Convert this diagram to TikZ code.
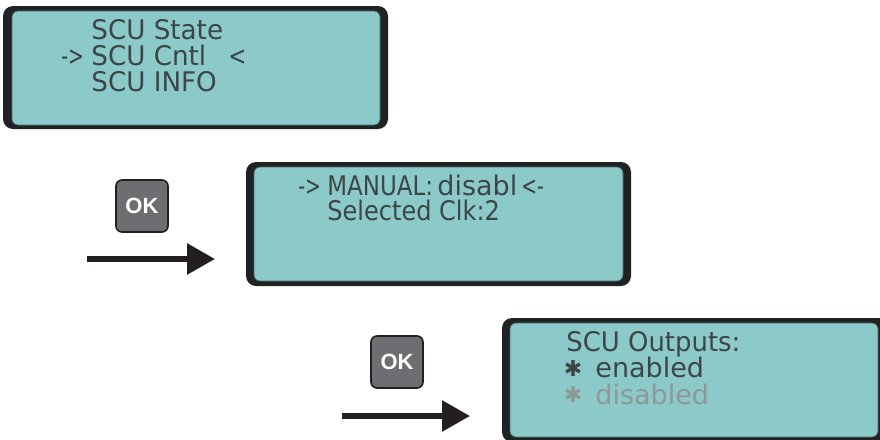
\documentclass[tikz,border=0pt]{standalone}
\usepackage{fontspec}
\usepackage{graphicx}
\usetikzlibrary{arrows.meta}
\newfontfamily\lcdfont{DejaVu Sans}
\newfontfamily\okfont{Liberation Sans}
\definecolor{lcdbg}{HTML}{8BCAC8}
\definecolor{lcdframe}{HTML}{1F2323}
\definecolor{lcdtxt}{HTML}{3C4646}
\definecolor{lcddim}{HTML}{8E9898}
\definecolor{btnfill}{HTML}{6D6E71}
\definecolor{ink}{HTML}{231F20}
\newcommand\squeeze[2]{\scalebox{#1}[1]{#2}}
\begin{document}
\begin{tikzpicture}[x=0.5pt,y=-0.5pt,
  lcdout/.style={fill=lcdframe, rounded corners=5pt},
  lcdin/.style={fill=lcdbg, draw=lcdframe!60!lcdbg, line width=0.4pt, rounded corners=3pt},
  lcd/.style={anchor=base west, inner sep=0pt, text=lcdtxt, font=\lcdfont\fontsize{13.5pt}{13.5pt}\selectfont},
  lcdstar/.style={inner sep=0pt, text=lcdtxt, font=\lcdfont\fontsize{11pt}{11pt}\selectfont},
  okbtn/.style={draw=ink, fill=btnfill, line width=0.8pt, rounded corners=3pt, minimum width=26pt, minimum height=26pt, inner sep=0pt, text=white, font=\okfont\bfseries\fontsize{11pt}{11pt}\selectfont},
  pointer/.style={draw=ink, line width=3pt, -{Triangle[length=14pt,width=15pt]}}]
\useasboundingbox (0,0) rectangle (880,440);
\clip (0,0) rectangle (880,440);

% LCD 1
\fill[lcdout] (3,6) rectangle (388,129);
\filldraw[lcdin] (12,11) rectangle (380,125);
\node[lcd] (l1a) at (91,39) {\squeeze{0.97}{SCU State}};
\node[lcd] (l1p) at (61,65) {\squeeze{0.7}{->}};
\node[lcd] (l1b) at (91,65) {\squeeze{0.97}{SCU Cntl}};
\node[lcd] (l1q) at (228,65) {\squeeze{0.8}{<}};
\node[lcd] (l1c) at (91,91) {\squeeze{0.97}{SCU INFO}};

% Step 2
\node[okbtn] (ok1) at (142,206) {OK};
\coordinate (a1s) at (87,259);
\coordinate (a1e) at (215,259);
\draw[pointer] (a1s) -- (a1e);

\fill[lcdout] (246,162) rectangle (631,286);
\filldraw[lcdin] (254,167) rectangle (623,281);
\node[lcd] (l2p) at (298,195) {\squeeze{0.7}{->}};
\node[lcd] (l2a) at (327,195) {\squeeze{0.85}{MANUAL:}};
\node[lcd] (l2b) at (437,195) {disabl};
\node[lcd] (l2q) at (521,195) {\squeeze{0.7}{<-}};
\node[lcd] (l2c) at (327,220) {\squeeze{0.89}{Selected Clk:2}};

% Step 3
\node[okbtn] (ok2) at (397,362) {OK};
\coordinate (a2s) at (342,416);
\coordinate (a2e) at (470,416);
\draw[pointer] (a2s) -- (a2e);

\fill[lcdout] (502,318) rectangle (890,442);
\filldraw[lcdin] (510,323) rectangle (878,437);
\node[lcd] (l3a) at (566,351) {\squeeze{0.96}{SCU Outputs:}};
\node[lcdstar] (s3b) at (573,368) {✱};
\node[lcd] (l3b) at (595,377.7) {enabled};
\node[lcdstar, text=lcddim] (s3c) at (573,394.5) {✱};
\node[lcd, text=lcddim] (l3c) at (595,404) {disabled};
\end{tikzpicture}
\end{document}
